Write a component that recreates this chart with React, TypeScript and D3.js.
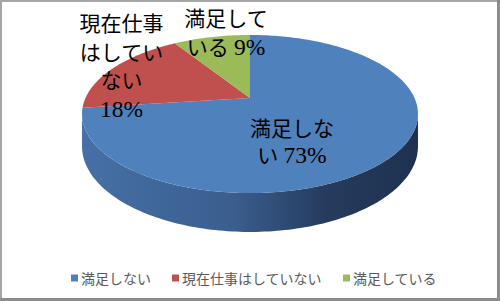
import React from "react";
import * as d3 from "d3";

const categories = ["満足しない", "現在仕事はしていない", "満足している"];
const values = [73, 18, 9];
const colors = ["#4f81bd", "#c0504d", "#9bbb59"];
const labelLines = [
  ["満足しな", "い 73%"],
  ["現在仕事", "はしてい", "ない", "18%"],
  ["満足して", "いる 9%"],
];

const W = 500;
const H = 301;
const CX = 250;
const CY = 98;
const A = 164.5;
const B = 75.8;
const K = 0.2026;
const DEPTH = 31;

function proj(phi: number, drop = 0): [number, number] {
  const X = Math.sin(phi);
  const Z = -Math.cos(phi);
  const w = 1 - K * Z;
  return [CX + (A * X) / w, CY + (B * Z + drop) / w];
}

function arcPoints(a0: number, a1: number, drop = 0): [number, number][] {
  const n = Math.max(8, Math.ceil(Math.abs(a1 - a0) / 0.02));
  return d3.range(n + 1).map((i) => proj(a0 + ((a1 - a0) * i) / n, drop));
}

export default function App() {
  const pie = d3.pie<number>().sort(null).startAngle(0).endAngle(2 * Math.PI);
  const arcs = pie(values);
  const line = d3.line();

  const sideA0 = Math.acos(-K);
  const sideA1 = 2 * Math.PI - sideA0;
  const sideTop = arcPoints(sideA0, sideA1, 0);
  const sideBot = arcPoints(sideA1, sideA0, DEPTH);
  const sidePath = line([...sideTop, ...sideBot]) + "Z";

  const labelPos = [
    { x: 292, y: [136, 163] },
    { x: 121.5, y: [31, 59.5, 88, 116.5] },
    { x: 226, y: [26, 55] },
  ];

  const legendFont = 14;
  const sq = 7;
  let lx = 71;
  const legendItems = categories.map((c, i) => {
    const item = { x: lx, c, i };
    lx += sq + 3 + c.length * legendFont + 21;
    return item;
  });

  return (
    <>
      <style>{`body{margin:0}`}</style>
      <svg width={W} height={H} style={{ display: "block" }}>
        <defs>
          <linearGradient id="side" x1="82" x2="418" y1="0" y2="0" gradientUnits="userSpaceOnUse">
            <stop offset="0" stopColor="#4670a6" />
            <stop offset="0.45" stopColor="#3a5e8e" />
            <stop offset="0.72" stopColor="#263c5e" />
            <stop offset="1" stopColor="#1e3150" />
          </linearGradient>
        </defs>
        <rect x={0} y={0} width={W} height={H} fill="#a6a6a6" />
        <rect x={497} y={0} width={3} height={H} fill="#8c8c8c" />
        <rect x={0} y={298} width={W} height={3} fill="#8c8c8c" />
        <rect x={2} y={2} width={495} height={296} fill="#ffffff" />

        <path d={sidePath} fill="url(#side)" />
        {arcs.map((a, i) => {
          const pts: [number, number][] = [[CX, CY], ...arcPoints(a.startAngle, a.endAngle)];
          return <path key={i} d={line(pts) + "Z"} fill={colors[i]} />;
        })}

        {labelLines.map((lines, i) => (
          <text
            key={i}
            textAnchor="middle"
            fontFamily="'Liberation Serif', 'Noto Sans CJK JP', serif"
            fontSize={21}
            fill="#000"
          >
            {lines.map((l, j) => (
              <tspan key={j} x={labelPos[i].x} y={labelPos[i].y[j]}>
                {l.split(/(\d+%)/).filter((s) => s.length).map((s, k) =>
                  /\d+%/.test(s) ? (
                    <tspan key={k} fontSize={23.5}>{s}</tspan>
                  ) : (
                    <tspan key={k}>{s}</tspan>
                  )
                )}
              </tspan>
            ))}
          </text>
        ))}

        {legendItems.map((it) => (
          <g key={it.i}>
            <rect x={it.x} y={274.5} width={sq} height={sq} fill={colors[it.i]} />
            <text
              x={it.x + sq + 3}
              y={284}
              fontFamily="'Noto Sans CJK JP', sans-serif"
              fontSize={legendFont}
              fill="#595959"
            >
              {it.c}
            </text>
          </g>
        ))}
      </svg>
    </>
  );
}
